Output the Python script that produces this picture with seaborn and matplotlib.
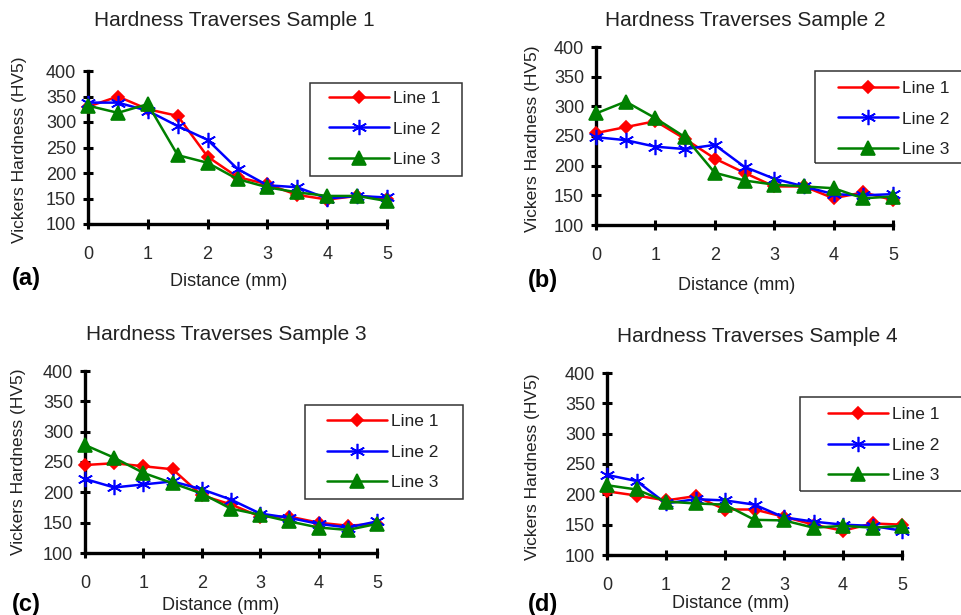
import matplotlib
matplotlib.use('Agg')
import matplotlib.pyplot as plt
from matplotlib.patches import Rectangle
import seaborn as sns
import pandas as pd

# distance along the traverse (mm)
distance = [0, 0.5, 1, 1.5, 2, 2.5, 3, 3.5, 4, 4.5, 5]
line_names = ['Line 1', 'Line 2', 'Line 3']

# Vickers hardness readings (HV5)
s1_line1 = [330, 350, 325, 312, 232, 192, 178, 157, 148, 155, 150]
s1_line2 = [338, 338, 322, 292, 265, 208, 176, 172, 150, 155, 152]
s1_line3 = [332, 318, 335, 235, 220, 188, 172, 162, 155, 155, 145]

s2_line1 = [255, 265, 275, 245, 212, 188, 165, 165, 145, 155, 142]
s2_line2 = [248, 243, 232, 228, 235, 198, 178, 165, 152, 150, 152]
s2_line3 = [288, 308, 280, 248, 188, 175, 168, 165, 162, 145, 148]

s3_line1 = [245, 248, 243, 238, 195, 180, 160, 160, 150, 145, 148]
s3_line2 = [222, 208, 213, 218, 205, 188, 165, 158, 148, 142, 152]
s3_line3 = [278, 257, 232, 215, 198, 173, 163, 152, 142, 138, 148]

s4_line1 = [205, 198, 190, 197, 175, 175, 163, 150, 140, 152, 150]
s4_line2 = [232, 222, 185, 192, 190, 183, 162, 155, 150, 148, 140]
s4_line3 = [215, 208, 188, 185, 183, 158, 157, 145, 148, 145, 148]

samples = [
    ('Hardness Traverses Sample 1', '(a)', [s1_line1, s1_line2, s1_line3]),
    ('Hardness Traverses Sample 2', '(b)', [s2_line1, s2_line2, s2_line3]),
    ('Hardness Traverses Sample 3', '(c)', [s3_line1, s3_line2, s3_line3]),
    ('Hardness Traverses Sample 4', '(d)', [s4_line1, s4_line2, s4_line3]),
]

sns.set_theme(style='ticks')
plt.rcParams['font.family'] = ['Liberation Sans', 'DejaVu Sans']

W, H = 961, 615
fig = plt.figure(figsize=(W / 100, H / 100), dpi=100)
fig.patch.set_facecolor('white')

def px_axes(x0, y_top, x1, y_bot):
    return fig.add_axes([x0 / W, 1 - y_bot / H, (x1 - x0) / W, (y_bot - y_top) / H])

# pixel layout of each panel: axes box, title, xlabel, ylabel, tag,
# legend frame box and (first handle x, middle row y)
layout = [
    dict(ax=(88, 71, 387, 224), title=(234, 20), xlab=(229, 282), ylab=(20, 150),
         tag=(12, 278), box=(310, 83, 462, 176), leg=(329, 129)),
    dict(ax=(596, 47, 893, 225), title=(745, 20), xlab=(737, 285), ylab=(532, 139),
         tag=(528, 280), box=(815, 71, 970, 163), leg=(838, 119)),
    dict(ax=(85, 371, 377, 553), title=(226, 334), xlab=(221, 605), ylab=(19, 462),
         tag=(12, 605), box=(305, 405, 463, 499), leg=(327, 452)),
    dict(ax=(607, 373, 902, 555), title=(757, 336), xlab=(731, 603), ylab=(532, 467),
         tag=(528, 605), box=(800, 397, 970, 491), leg=(828, 445)),
]

colors = ['#ff0000', '#0000ff', '#008000']
markers = ['D', (6, 2, 0), '^']
msizes = [6, 11, 9.5]

for (title, tag, series), lay in zip(samples, layout):
    ax = px_axes(*lay['ax'])
    df = pd.DataFrame({'Distance': distance * 3,
                       'HV': series[0] + series[1] + series[2],
                       'Line': sum([[n] * len(distance) for n in line_names], [])})
    for name, c, m, ms in zip(line_names, colors, markers, msizes):
        sub = df[df['Line'] == name]
        sns.lineplot(data=sub, x='Distance', y='HV', ax=ax, color=c, lw=1.8,
                     marker=m, markersize=ms, markeredgecolor=c,
                     markeredgewidth=1.2, label=name, clip_on=False, zorder=3)
    ax.set_xlim(0, 5)
    ax.set_ylim(100, 400)
    ax.set_xticks([0, 1, 2, 3, 4, 5])
    ax.set_yticks([100, 150, 200, 250, 300, 350, 400])
    ax.set_xlabel('')
    ax.set_ylabel('')
    sns.despine(ax=ax)
    for sp in ['left', 'bottom']:
        ax.spines[sp].set_linewidth(2.4)
        ax.spines[sp].set_color('black')
    ax.tick_params(direction='inout', length=7, width=2.2, color='black',
                   labelsize=13, labelcolor='#2a2a2a')
    ax.tick_params(axis='y', pad=5)
    ax.tick_params(axis='x', pad=12)
    ax.set_facecolor('none')

    # legend: entries without frame, the frame drawn as its own box
    bx0, by0, bx1, by1 = lay['box']
    fig.patches.append(Rectangle((bx0 / W, 1 - by1 / H), (bx1 - bx0) / W,
                                 (by1 - by0) / H, transform=fig.transFigure,
                                 fill=False, edgecolor='#333333', lw=1.1))
    lx, ly = lay['leg']
    leg = ax.legend(loc='center left', bbox_to_anchor=(lx / W, 1 - ly / H),
                    bbox_transform=fig.transFigure, frameon=False,
                    fontsize=12.5, handlelength=3.45, handletextpad=0.25,
                    labelspacing=0.89, borderpad=0, borderaxespad=0)
    for t in leg.get_texts():
        t.set_color('#222222')

    fig.text(lay['title'][0] / W, 1 - lay['title'][1] / H, title, ha='center',
             va='center', fontsize=15, color='#222222')
    fig.text(lay['xlab'][0] / W, 1 - lay['xlab'][1] / H, 'Distance (mm)',
             ha='center', va='center', fontsize=13, color='#222222')
    fig.text(lay['ylab'][0] / W, 1 - lay['ylab'][1] / H, 'Vickers Hardness (HV5)',
             ha='center', va='center', rotation=90, fontsize=12.5, color='#222222')
    fig.text(lay['tag'][0] / W, 1 - lay['tag'][1] / H, tag, ha='left',
             va='center', fontsize=17, fontweight='bold', color='black')

fig.savefig('out.png', dpi=100)
